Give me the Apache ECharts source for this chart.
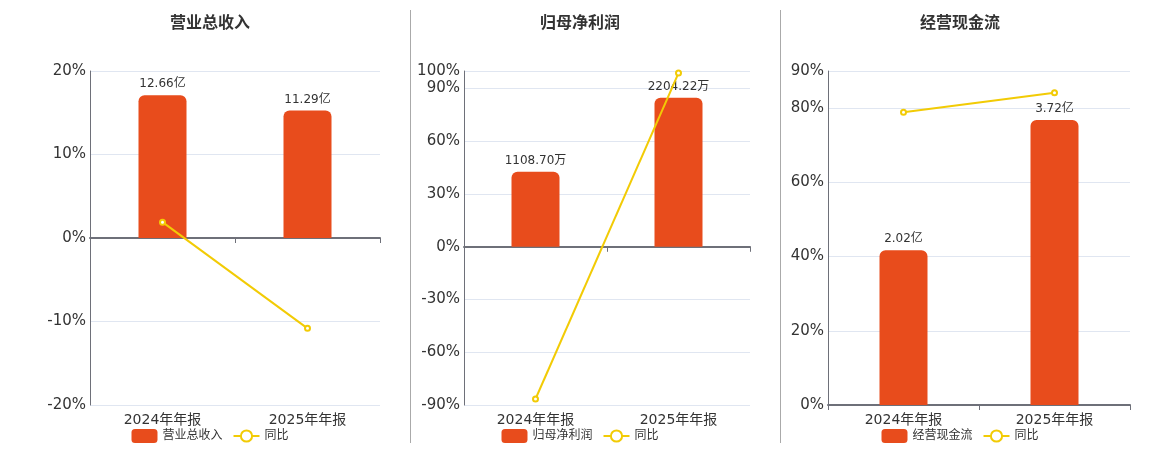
<!DOCTYPE html>
<html>
<head>
<meta charset="utf-8">
<script src="https://cdn.jsdelivr.net/npm/echarts@6/dist/echarts.min.js"></script>
<style>
    body { margin: 0; background: #fff; }
    .box { position: absolute; top: 0; height: 450px; }
    .sep { position: absolute; top: 10px; height: 433px; width: 1px; background: #aaa; }
</style>
</head>
<body>
<div id="c1" class="box" style="left:0;width:420px"></div>
<div id="c2" class="box" style="left:400px;width:360px"></div>
<div id="c3" class="box" style="left:780px;width:360px"></div>
<div class="sep" style="left:410px"></div>
<div class="sep" style="left:780px"></div>
<script>
const categories = ['2024年年报', '2025年年报'];

// 营业总收入 (亿) and yoy %
const revenue = [12.66, 11.29];
const revenueYoy = [1.9, -10.82];

// 归母净利润 (万) and yoy %
const profit = [1108.70, 2204.22];
const profitYoy = [-86.6, 98.81];

// 经营现金流 (亿) and yoy %
const cashflow = [2.02, 3.72];
const cashflowYoy = [78.9, 84.16];

const barColor = '#e84c1c';
const lineColor = '#f2cb05';
const font = "'DejaVu Sans', 'Noto Sans CJK SC', sans-serif";

function makeOption(title, name, bars, unit, yoy, pct, barAxis, grid) {
    return {
        animation: false,
        textStyle: { fontFamily: font },
        title: {
            text: title,
            left: 'center',
            top: 11,
            textStyle: { fontSize: 16, fontWeight: 'bold', color: '#333', fontFamily: font }
        },
        legend: {
            bottom: 2,
            left: 'center',
            itemWidth: 26,
            itemHeight: 14,
            itemGap: 10,
            textStyle: { fontSize: 12, color: '#333', fontFamily: font },
            data: [{ name: name, icon: 'roundRect' }, { name: '同比' }]
        },
        grid: { left: grid[0], right: grid[1], top: 71, bottom: 45 },
        xAxis: [{
            type: 'category',
            data: categories,
            position: 'bottom',
            axisLine: { onZero: true, onZeroAxisIndex: 0, lineStyle: { color: '#6e7079', width: 2 } },
            axisTick: { show: true, lineStyle: { color: '#6e7079' } },
            axisLabel: { show: false }
        }, {
            type: 'category',
            data: categories,
            position: 'bottom',
            axisLine: { show: false, onZero: false },
            axisTick: { show: false },
            axisLabel: { fontSize: 14, color: '#333', margin: 8, fontFamily: font }
        }],
        yAxis: [{
            type: 'value',
            min: pct[0],
            max: pct[1],
            interval: pct[2],
            axisLine: { show: true, lineStyle: { color: '#6e7079' } },
            axisTick: { show: false },
            axisLabel: { fontSize: 15, color: '#333', formatter: '{value}%', margin: 4, fontFamily: font },
            splitLine: { lineStyle: { color: '#e0e6f1' } }
        }, {
            type: 'value',
            min: barAxis[0],
            max: barAxis[1],
            show: false,
            splitLine: { show: false }
        }],
        series: [{
            name: name,
            type: 'bar',
            xAxisIndex: 0,
            yAxisIndex: 1,
            data: bars,
            barWidth: 48,
            itemStyle: { color: barColor, borderRadius: [6, 6, 0, 0] },
            label: {
                show: true,
                position: 'top',
                color: '#333',
                fontSize: 12,
                fontFamily: font,
                formatter: p => p.value.toFixed(2) + unit
            }
        }, {
            name: '同比',
            type: 'line',
            xAxisIndex: 0,
            yAxisIndex: 0,
            data: yoy,
            symbol: 'emptyCircle',
            symbolSize: 5,
            lineStyle: { color: lineColor, width: 2 },
            itemStyle: { color: lineColor }
        }]
    };
}

echarts.init(document.getElementById('c1')).setOption(
    makeOption('营业总收入', '营业总收入', revenue, '亿', revenueYoy, [-20, 20, 10], [-14.8, 14.8], [90, 40]));
echarts.init(document.getElementById('c2')).setOption(
    makeOption('归母净利润', '归母净利润', profit, '万', profitYoy, [-90, 100, 30], [-2340, 2600], [64, 10]));
echarts.init(document.getElementById('c3')).setOption(
    makeOption('经营现金流', '经营现金流', cashflow, '亿', cashflowYoy, [0, 90, 20], [0, 4.36], [48, 10]));
</script>
</body>
</html>
